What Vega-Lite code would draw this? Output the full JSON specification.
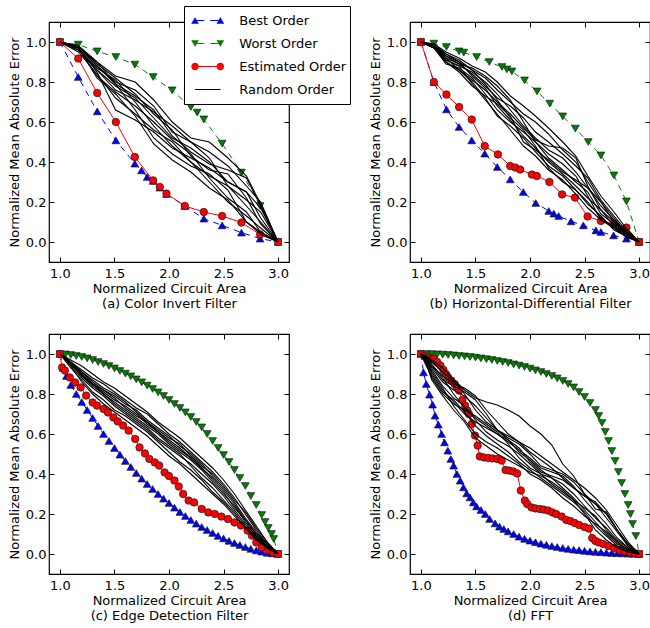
{
"$schema": "https://vega.github.io/schema/vega-lite/v6.json",
"autosize": {"type": "pad"},
"padding": {"left": 7, "top": 5, "right": 0, "bottom": 0},
"background": "white",
"config": {
  "font": "DejaVu Sans",
  "view": {"stroke": "black", "strokeWidth": 1.2},
  "axis": {"domain": false, "grid": false, "ticks": true, "tickColor": "black", "tickSize": -5, "tickWidth": 1,
    "labelFont": "DejaVu Sans", "labelFontSize": 13, "labelColor": "black", "labelFlush": false, "labelOverlap": false,
    "titleFont": "DejaVu Sans", "titleFontSize": 13, "titleFontWeight": "normal", "titleColor": "black", "titleLineHeight": 15.5}
},
"datasets": {
"a": [
{"k":"B","x":1,"y":1},{"k":"B","x":1.168,"y":0.825},{"k":"B","x":1.342,"y":0.653},{"k":"B","x":1.513,"y":0.508},{"k":"B","x":1.687,"y":0.392},{"k":"B","x":1.748,"y":0.358},{"k":"B","x":1.8,"y":0.325},{"k":"B","x":1.855,"y":0.305},{"k":"B","x":1.916,"y":0.272},{"k":"B","x":1.977,"y":0.24},{"k":"B","x":2.145,"y":0.18},{"k":"B","x":2.319,"y":0.117},{"k":"B","x":2.487,"y":0.083},{"k":"B","x":2.664,"y":0.047},{"k":"B","x":2.835,"y":0.017},{"k":"B","x":3,"y":0},
{"k":"W","x":1,"y":1},{"k":"W","x":1.168,"y":0.987},{"k":"W","x":1.342,"y":0.953},{"k":"W","x":1.513,"y":0.925},{"k":"W","x":1.687,"y":0.887},{"k":"W","x":1.855,"y":0.825},{"k":"W","x":2.029,"y":0.758},{"k":"W","x":2.2,"y":0.675},{"k":"W","x":2.258,"y":0.647},{"k":"W","x":2.319,"y":0.613},{"k":"W","x":2.487,"y":0.492},{"k":"W","x":2.664,"y":0.347},{"k":"W","x":2.835,"y":0.18},{"k":"W","x":3,"y":0},
{"k":"E","x":1,"y":1},{"k":"E","x":1.168,"y":0.917},{"k":"E","x":1.342,"y":0.745},{"k":"E","x":1.513,"y":0.6},{"k":"E","x":1.687,"y":0.425},{"k":"E","x":1.855,"y":0.308},{"k":"E","x":1.916,"y":0.275},{"k":"E","x":1.977,"y":0.242},{"k":"E","x":2.145,"y":0.18},{"k":"E","x":2.319,"y":0.15},{"k":"E","x":2.487,"y":0.13},{"k":"E","x":2.664,"y":0.097},{"k":"E","x":2.835,"y":0.038},{"k":"E","x":3,"y":0},
{"k":"R","i":1,"x":1,"y":1},{"k":"R","i":1,"x":1.17,"y":0.98},{"k":"R","i":1,"x":1.34,"y":0.9},{"k":"R","i":1,"x":1.51,"y":0.83},{"k":"R","i":1,"x":1.69,"y":0.8},{"k":"R","i":1,"x":1.86,"y":0.71},{"k":"R","i":1,"x":2.03,"y":0.6},{"k":"R","i":1,"x":2.2,"y":0.52},{"k":"R","i":1,"x":2.37,"y":0.5},{"k":"R","i":1,"x":2.54,"y":0.42},{"k":"R","i":1,"x":2.71,"y":0.33},{"k":"R","i":1,"x":2.84,"y":0.19},{"k":"R","i":1,"x":3,"y":0},
{"k":"R","i":2,"x":1,"y":1},{"k":"R","i":2,"x":1.17,"y":0.97},{"k":"R","i":2,"x":1.34,"y":0.88},{"k":"R","i":2,"x":1.51,"y":0.8},{"k":"R","i":2,"x":1.69,"y":0.76},{"k":"R","i":2,"x":1.86,"y":0.68},{"k":"R","i":2,"x":2.03,"y":0.55},{"k":"R","i":2,"x":2.2,"y":0.5},{"k":"R","i":2,"x":2.37,"y":0.45},{"k":"R","i":2,"x":2.54,"y":0.38},{"k":"R","i":2,"x":2.71,"y":0.28},{"k":"R","i":2,"x":2.84,"y":0.2},{"k":"R","i":2,"x":3,"y":0},
{"k":"R","i":3,"x":1,"y":1},{"k":"R","i":3,"x":1.17,"y":0.96},{"k":"R","i":3,"x":1.34,"y":0.86},{"k":"R","i":3,"x":1.51,"y":0.78},{"k":"R","i":3,"x":1.69,"y":0.72},{"k":"R","i":3,"x":1.86,"y":0.62},{"k":"R","i":3,"x":2.03,"y":0.52},{"k":"R","i":3,"x":2.2,"y":0.47},{"k":"R","i":3,"x":2.37,"y":0.4},{"k":"R","i":3,"x":2.54,"y":0.3},{"k":"R","i":3,"x":2.71,"y":0.25},{"k":"R","i":3,"x":2.84,"y":0.17},{"k":"R","i":3,"x":3,"y":0},
{"k":"R","i":4,"x":1,"y":1},{"k":"R","i":4,"x":1.17,"y":0.98},{"k":"R","i":4,"x":1.34,"y":0.89},{"k":"R","i":4,"x":1.51,"y":0.82},{"k":"R","i":4,"x":1.69,"y":0.74},{"k":"R","i":4,"x":1.86,"y":0.64},{"k":"R","i":4,"x":2.03,"y":0.56},{"k":"R","i":4,"x":2.2,"y":0.43},{"k":"R","i":4,"x":2.37,"y":0.36},{"k":"R","i":4,"x":2.54,"y":0.34},{"k":"R","i":4,"x":2.71,"y":0.22},{"k":"R","i":4,"x":2.84,"y":0.09},{"k":"R","i":4,"x":3,"y":0},
{"k":"R","i":5,"x":1,"y":1},{"k":"R","i":5,"x":1.17,"y":0.95},{"k":"R","i":5,"x":1.34,"y":0.84},{"k":"R","i":5,"x":1.51,"y":0.72},{"k":"R","i":5,"x":1.69,"y":0.64},{"k":"R","i":5,"x":1.86,"y":0.56},{"k":"R","i":5,"x":2.03,"y":0.5},{"k":"R","i":5,"x":2.2,"y":0.4},{"k":"R","i":5,"x":2.37,"y":0.33},{"k":"R","i":5,"x":2.54,"y":0.28},{"k":"R","i":5,"x":2.71,"y":0.18},{"k":"R","i":5,"x":2.84,"y":0.1},{"k":"R","i":5,"x":3,"y":0},
{"k":"R","i":6,"x":1,"y":1},{"k":"R","i":6,"x":1.17,"y":0.97},{"k":"R","i":6,"x":1.34,"y":0.85},{"k":"R","i":6,"x":1.51,"y":0.66},{"k":"R","i":6,"x":1.69,"y":0.61},{"k":"R","i":6,"x":1.86,"y":0.55},{"k":"R","i":6,"x":2.03,"y":0.47},{"k":"R","i":6,"x":2.2,"y":0.42},{"k":"R","i":6,"x":2.37,"y":0.37},{"k":"R","i":6,"x":2.54,"y":0.3},{"k":"R","i":6,"x":2.71,"y":0.25},{"k":"R","i":6,"x":2.84,"y":0.12},{"k":"R","i":6,"x":3,"y":0},
{"k":"R","i":7,"x":1,"y":1},{"k":"R","i":7,"x":1.17,"y":0.96},{"k":"R","i":7,"x":1.34,"y":0.87},{"k":"R","i":7,"x":1.51,"y":0.81},{"k":"R","i":7,"x":1.69,"y":0.7},{"k":"R","i":7,"x":1.86,"y":0.58},{"k":"R","i":7,"x":2.03,"y":0.48},{"k":"R","i":7,"x":2.2,"y":0.4},{"k":"R","i":7,"x":2.37,"y":0.3},{"k":"R","i":7,"x":2.54,"y":0.2},{"k":"R","i":7,"x":2.71,"y":0.13},{"k":"R","i":7,"x":2.84,"y":0.07},{"k":"R","i":7,"x":3,"y":0},
{"k":"R","i":8,"x":1,"y":1},{"k":"R","i":8,"x":1.17,"y":0.97},{"k":"R","i":8,"x":1.34,"y":0.83},{"k":"R","i":8,"x":1.51,"y":0.75},{"k":"R","i":8,"x":1.69,"y":0.68},{"k":"R","i":8,"x":1.86,"y":0.6},{"k":"R","i":8,"x":2.03,"y":0.51},{"k":"R","i":8,"x":2.2,"y":0.44},{"k":"R","i":8,"x":2.37,"y":0.32},{"k":"R","i":8,"x":2.54,"y":0.22},{"k":"R","i":8,"x":2.71,"y":0.15},{"k":"R","i":8,"x":2.84,"y":0.05},{"k":"R","i":8,"x":3,"y":0},
{"k":"R","i":9,"x":1,"y":1},{"k":"R","i":9,"x":1.17,"y":0.98},{"k":"R","i":9,"x":1.34,"y":0.9},{"k":"R","i":9,"x":1.51,"y":0.79},{"k":"R","i":9,"x":1.69,"y":0.66},{"k":"R","i":9,"x":1.86,"y":0.52},{"k":"R","i":9,"x":2.03,"y":0.44},{"k":"R","i":9,"x":2.2,"y":0.38},{"k":"R","i":9,"x":2.37,"y":0.34},{"k":"R","i":9,"x":2.54,"y":0.26},{"k":"R","i":9,"x":2.71,"y":0.1},{"k":"R","i":9,"x":2.84,"y":0.04},{"k":"R","i":9,"x":3,"y":0},
{"k":"R","i":10,"x":1,"y":1},{"k":"R","i":10,"x":1.17,"y":0.96},{"k":"R","i":10,"x":1.34,"y":0.86},{"k":"R","i":10,"x":1.51,"y":0.76},{"k":"R","i":10,"x":1.69,"y":0.71},{"k":"R","i":10,"x":1.86,"y":0.65},{"k":"R","i":10,"x":2.03,"y":0.58},{"k":"R","i":10,"x":2.2,"y":0.5},{"k":"R","i":10,"x":2.37,"y":0.42},{"k":"R","i":10,"x":2.54,"y":0.28},{"k":"R","i":10,"x":2.71,"y":0.21},{"k":"R","i":10,"x":2.84,"y":0.15},{"k":"R","i":10,"x":3,"y":0},
{"k":"R","i":11,"x":1,"y":1},{"k":"R","i":11,"x":1.17,"y":0.97},{"k":"R","i":11,"x":1.34,"y":0.82},{"k":"R","i":11,"x":1.51,"y":0.74},{"k":"R","i":11,"x":1.69,"y":0.63},{"k":"R","i":11,"x":1.86,"y":0.49},{"k":"R","i":11,"x":2.03,"y":0.41},{"k":"R","i":11,"x":2.2,"y":0.35},{"k":"R","i":11,"x":2.37,"y":0.27},{"k":"R","i":11,"x":2.54,"y":0.21},{"k":"R","i":11,"x":2.71,"y":0.1},{"k":"R","i":11,"x":2.84,"y":0.05},{"k":"R","i":11,"x":3,"y":0},
{"k":"R","i":12,"x":1,"y":1},{"k":"R","i":12,"x":1.17,"y":0.98},{"k":"R","i":12,"x":1.34,"y":0.88},{"k":"R","i":12,"x":1.51,"y":0.79},{"k":"R","i":12,"x":1.69,"y":0.73},{"k":"R","i":12,"x":1.86,"y":0.66},{"k":"R","i":12,"x":2.03,"y":0.53},{"k":"R","i":12,"x":2.2,"y":0.45},{"k":"R","i":12,"x":2.37,"y":0.39},{"k":"R","i":12,"x":2.54,"y":0.36},{"k":"R","i":12,"x":2.71,"y":0.32},{"k":"R","i":12,"x":2.84,"y":0.18},{"k":"R","i":12,"x":3,"y":0}
],
"b": [
{"k":"B","x":1,"y":1},{"k":"B","x":1.119,"y":0.8},{"k":"B","x":1.234,"y":0.663},{"k":"B","x":1.35,"y":0.575},{"k":"B","x":1.466,"y":0.508},{"k":"B","x":1.585,"y":0.442},{"k":"B","x":1.7,"y":0.375},{"k":"B","x":1.819,"y":0.313},{"k":"B","x":1.938,"y":0.25},{"k":"B","x":2.053,"y":0.195},{"k":"B","x":2.172,"y":0.155},{"k":"B","x":2.218,"y":0.142},{"k":"B","x":2.263,"y":0.13},{"k":"B","x":2.376,"y":0.103},{"k":"B","x":2.489,"y":0.083},{"k":"B","x":2.604,"y":0.058},{"k":"B","x":2.65,"y":0.05},{"k":"B","x":2.766,"y":0.033},{"k":"B","x":2.884,"y":0.017},{"k":"B","x":3,"y":0},
{"k":"W","x":1,"y":1},{"k":"W","x":1.119,"y":0.992},{"k":"W","x":1.234,"y":0.975},{"k":"W","x":1.35,"y":0.953},{"k":"W","x":1.393,"y":0.947},{"k":"W","x":1.511,"y":0.925},{"k":"W","x":1.627,"y":0.9},{"k":"W","x":1.743,"y":0.875},{"k":"W","x":1.788,"y":0.863},{"k":"W","x":1.834,"y":0.853},{"k":"W","x":1.95,"y":0.808},{"k":"W","x":2.065,"y":0.753},{"k":"W","x":2.181,"y":0.692},{"k":"W","x":2.3,"y":0.628},{"k":"W","x":2.416,"y":0.567},{"k":"W","x":2.534,"y":0.5},{"k":"W","x":2.65,"y":0.433},{"k":"W","x":2.769,"y":0.333},{"k":"W","x":2.884,"y":0.203},{"k":"W","x":3,"y":0},
{"k":"E","x":1,"y":1},{"k":"E","x":1.119,"y":0.8},{"k":"E","x":1.234,"y":0.737},{"k":"E","x":1.35,"y":0.675},{"k":"E","x":1.466,"y":0.612},{"k":"E","x":1.585,"y":0.48},{"k":"E","x":1.706,"y":0.438},{"k":"E","x":1.819,"y":0.38},{"k":"E","x":1.865,"y":0.372},{"k":"E","x":1.91,"y":0.362},{"k":"E","x":2.017,"y":0.337},{"k":"E","x":2.062,"y":0.33},{"k":"E","x":2.178,"y":0.3},{"k":"E","x":2.294,"y":0.238},{"k":"E","x":2.412,"y":0.222},{"k":"E","x":2.528,"y":0.128},{"k":"E","x":2.65,"y":0.105},{"k":"E","x":2.766,"y":0.092},{"k":"E","x":2.884,"y":0.072},{"k":"E","x":3,"y":0},
{"k":"R","i":1,"x":1,"y":1},{"k":"R","i":1,"x":1.12,"y":0.99},{"k":"R","i":1,"x":1.23,"y":0.95},{"k":"R","i":1,"x":1.35,"y":0.92},{"k":"R","i":1,"x":1.47,"y":0.88},{"k":"R","i":1,"x":1.59,"y":0.85},{"k":"R","i":1,"x":1.7,"y":0.8},{"k":"R","i":1,"x":1.82,"y":0.73},{"k":"R","i":1,"x":1.94,"y":0.68},{"k":"R","i":1,"x":2.05,"y":0.63},{"k":"R","i":1,"x":2.17,"y":0.57},{"k":"R","i":1,"x":2.3,"y":0.5},{"k":"R","i":1,"x":2.42,"y":0.43},{"k":"R","i":1,"x":2.53,"y":0.33},{"k":"R","i":1,"x":2.65,"y":0.23},{"k":"R","i":1,"x":2.77,"y":0.15},{"k":"R","i":1,"x":2.88,"y":0.07},{"k":"R","i":1,"x":3,"y":0},
{"k":"R","i":2,"x":1,"y":1},{"k":"R","i":2,"x":1.12,"y":0.98},{"k":"R","i":2,"x":1.23,"y":0.93},{"k":"R","i":2,"x":1.35,"y":0.9},{"k":"R","i":2,"x":1.47,"y":0.86},{"k":"R","i":2,"x":1.59,"y":0.82},{"k":"R","i":2,"x":1.7,"y":0.76},{"k":"R","i":2,"x":1.82,"y":0.7},{"k":"R","i":2,"x":1.94,"y":0.64},{"k":"R","i":2,"x":2.05,"y":0.6},{"k":"R","i":2,"x":2.17,"y":0.54},{"k":"R","i":2,"x":2.3,"y":0.46},{"k":"R","i":2,"x":2.42,"y":0.4},{"k":"R","i":2,"x":2.53,"y":0.3},{"k":"R","i":2,"x":2.65,"y":0.2},{"k":"R","i":2,"x":2.77,"y":0.12},{"k":"R","i":2,"x":2.88,"y":0.05},{"k":"R","i":2,"x":3,"y":0},
{"k":"R","i":3,"x":1,"y":1},{"k":"R","i":3,"x":1.12,"y":0.98},{"k":"R","i":3,"x":1.23,"y":0.92},{"k":"R","i":3,"x":1.35,"y":0.89},{"k":"R","i":3,"x":1.47,"y":0.84},{"k":"R","i":3,"x":1.59,"y":0.78},{"k":"R","i":3,"x":1.7,"y":0.72},{"k":"R","i":3,"x":1.82,"y":0.68},{"k":"R","i":3,"x":1.94,"y":0.62},{"k":"R","i":3,"x":2.05,"y":0.55},{"k":"R","i":3,"x":2.17,"y":0.5},{"k":"R","i":3,"x":2.3,"y":0.44},{"k":"R","i":3,"x":2.42,"y":0.38},{"k":"R","i":3,"x":2.53,"y":0.32},{"k":"R","i":3,"x":2.65,"y":0.21},{"k":"R","i":3,"x":2.77,"y":0.13},{"k":"R","i":3,"x":2.88,"y":0.06},{"k":"R","i":3,"x":3,"y":0},
{"k":"R","i":4,"x":1,"y":1},{"k":"R","i":4,"x":1.12,"y":0.97},{"k":"R","i":4,"x":1.23,"y":0.91},{"k":"R","i":4,"x":1.35,"y":0.88},{"k":"R","i":4,"x":1.47,"y":0.85},{"k":"R","i":4,"x":1.59,"y":0.8},{"k":"R","i":4,"x":1.7,"y":0.74},{"k":"R","i":4,"x":1.82,"y":0.66},{"k":"R","i":4,"x":1.94,"y":0.58},{"k":"R","i":4,"x":2.05,"y":0.52},{"k":"R","i":4,"x":2.17,"y":0.46},{"k":"R","i":4,"x":2.3,"y":0.42},{"k":"R","i":4,"x":2.42,"y":0.35},{"k":"R","i":4,"x":2.53,"y":0.27},{"k":"R","i":4,"x":2.65,"y":0.18},{"k":"R","i":4,"x":2.77,"y":0.11},{"k":"R","i":4,"x":2.88,"y":0.05},{"k":"R","i":4,"x":3,"y":0},
{"k":"R","i":5,"x":1,"y":1},{"k":"R","i":5,"x":1.12,"y":0.98},{"k":"R","i":5,"x":1.23,"y":0.9},{"k":"R","i":5,"x":1.35,"y":0.86},{"k":"R","i":5,"x":1.47,"y":0.81},{"k":"R","i":5,"x":1.59,"y":0.76},{"k":"R","i":5,"x":1.7,"y":0.7},{"k":"R","i":5,"x":1.82,"y":0.64},{"k":"R","i":5,"x":1.94,"y":0.57},{"k":"R","i":5,"x":2.05,"y":0.51},{"k":"R","i":5,"x":2.17,"y":0.48},{"k":"R","i":5,"x":2.3,"y":0.47},{"k":"R","i":5,"x":2.42,"y":0.42},{"k":"R","i":5,"x":2.53,"y":0.28},{"k":"R","i":5,"x":2.65,"y":0.16},{"k":"R","i":5,"x":2.77,"y":0.1},{"k":"R","i":5,"x":2.88,"y":0.04},{"k":"R","i":5,"x":3,"y":0},
{"k":"R","i":6,"x":1,"y":1},{"k":"R","i":6,"x":1.12,"y":0.97},{"k":"R","i":6,"x":1.23,"y":0.89},{"k":"R","i":6,"x":1.35,"y":0.87},{"k":"R","i":6,"x":1.47,"y":0.82},{"k":"R","i":6,"x":1.59,"y":0.74},{"k":"R","i":6,"x":1.7,"y":0.66},{"k":"R","i":6,"x":1.82,"y":0.6},{"k":"R","i":6,"x":1.94,"y":0.55},{"k":"R","i":6,"x":2.05,"y":0.5},{"k":"R","i":6,"x":2.17,"y":0.42},{"k":"R","i":6,"x":2.3,"y":0.36},{"k":"R","i":6,"x":2.42,"y":0.3},{"k":"R","i":6,"x":2.53,"y":0.25},{"k":"R","i":6,"x":2.65,"y":0.14},{"k":"R","i":6,"x":2.77,"y":0.09},{"k":"R","i":6,"x":2.88,"y":0.04},{"k":"R","i":6,"x":3,"y":0},
{"k":"R","i":7,"x":1,"y":1},{"k":"R","i":7,"x":1.12,"y":0.98},{"k":"R","i":7,"x":1.23,"y":0.94},{"k":"R","i":7,"x":1.35,"y":0.9},{"k":"R","i":7,"x":1.47,"y":0.83},{"k":"R","i":7,"x":1.59,"y":0.77},{"k":"R","i":7,"x":1.7,"y":0.68},{"k":"R","i":7,"x":1.82,"y":0.61},{"k":"R","i":7,"x":1.94,"y":0.53},{"k":"R","i":7,"x":2.05,"y":0.47},{"k":"R","i":7,"x":2.17,"y":0.4},{"k":"R","i":7,"x":2.3,"y":0.34},{"k":"R","i":7,"x":2.42,"y":0.28},{"k":"R","i":7,"x":2.53,"y":0.22},{"k":"R","i":7,"x":2.65,"y":0.16},{"k":"R","i":7,"x":2.77,"y":0.08},{"k":"R","i":7,"x":2.88,"y":0.03},{"k":"R","i":7,"x":3,"y":0},
{"k":"R","i":8,"x":1,"y":1},{"k":"R","i":8,"x":1.12,"y":0.97},{"k":"R","i":8,"x":1.23,"y":0.92},{"k":"R","i":8,"x":1.35,"y":0.86},{"k":"R","i":8,"x":1.47,"y":0.8},{"k":"R","i":8,"x":1.59,"y":0.72},{"k":"R","i":8,"x":1.7,"y":0.63},{"k":"R","i":8,"x":1.82,"y":0.58},{"k":"R","i":8,"x":1.94,"y":0.52},{"k":"R","i":8,"x":2.05,"y":0.45},{"k":"R","i":8,"x":2.17,"y":0.38},{"k":"R","i":8,"x":2.3,"y":0.33},{"k":"R","i":8,"x":2.42,"y":0.26},{"k":"R","i":8,"x":2.53,"y":0.2},{"k":"R","i":8,"x":2.65,"y":0.12},{"k":"R","i":8,"x":2.77,"y":0.07},{"k":"R","i":8,"x":2.88,"y":0.03},{"k":"R","i":8,"x":3,"y":0},
{"k":"R","i":9,"x":1,"y":1},{"k":"R","i":9,"x":1.12,"y":0.98},{"k":"R","i":9,"x":1.23,"y":0.93},{"k":"R","i":9,"x":1.35,"y":0.89},{"k":"R","i":9,"x":1.47,"y":0.87},{"k":"R","i":9,"x":1.59,"y":0.83},{"k":"R","i":9,"x":1.7,"y":0.78},{"k":"R","i":9,"x":1.82,"y":0.71},{"k":"R","i":9,"x":1.94,"y":0.6},{"k":"R","i":9,"x":2.05,"y":0.5},{"k":"R","i":9,"x":2.17,"y":0.44},{"k":"R","i":9,"x":2.3,"y":0.39},{"k":"R","i":9,"x":2.42,"y":0.33},{"k":"R","i":9,"x":2.53,"y":0.23},{"k":"R","i":9,"x":2.65,"y":0.11},{"k":"R","i":9,"x":2.77,"y":0.08},{"k":"R","i":9,"x":2.88,"y":0.04},{"k":"R","i":9,"x":3,"y":0},
{"k":"R","i":10,"x":1,"y":1},{"k":"R","i":10,"x":1.12,"y":0.99},{"k":"R","i":10,"x":1.23,"y":0.94},{"k":"R","i":10,"x":1.35,"y":0.91},{"k":"R","i":10,"x":1.47,"y":0.86},{"k":"R","i":10,"x":1.59,"y":0.79},{"k":"R","i":10,"x":1.7,"y":0.71},{"k":"R","i":10,"x":1.82,"y":0.62},{"k":"R","i":10,"x":1.94,"y":0.56},{"k":"R","i":10,"x":2.05,"y":0.48},{"k":"R","i":10,"x":2.17,"y":0.37},{"k":"R","i":10,"x":2.3,"y":0.3},{"k":"R","i":10,"x":2.42,"y":0.26},{"k":"R","i":10,"x":2.53,"y":0.19},{"k":"R","i":10,"x":2.65,"y":0.13},{"k":"R","i":10,"x":2.77,"y":0.06},{"k":"R","i":10,"x":2.88,"y":0.03},{"k":"R","i":10,"x":3,"y":0},
{"k":"R","i":11,"x":1,"y":1},{"k":"R","i":11,"x":1.12,"y":0.98},{"k":"R","i":11,"x":1.23,"y":0.91},{"k":"R","i":11,"x":1.35,"y":0.88},{"k":"R","i":11,"x":1.47,"y":0.79},{"k":"R","i":11,"x":1.59,"y":0.71},{"k":"R","i":11,"x":1.7,"y":0.64},{"k":"R","i":11,"x":1.82,"y":0.56},{"k":"R","i":11,"x":1.94,"y":0.48},{"k":"R","i":11,"x":2.05,"y":0.43},{"k":"R","i":11,"x":2.17,"y":0.36},{"k":"R","i":11,"x":2.3,"y":0.31},{"k":"R","i":11,"x":2.42,"y":0.24},{"k":"R","i":11,"x":2.53,"y":0.17},{"k":"R","i":11,"x":2.65,"y":0.11},{"k":"R","i":11,"x":2.77,"y":0.07},{"k":"R","i":11,"x":2.88,"y":0.025},{"k":"R","i":11,"x":3,"y":0},
{"k":"R","i":12,"x":1,"y":1},{"k":"R","i":12,"x":1.12,"y":0.97},{"k":"R","i":12,"x":1.23,"y":0.9},{"k":"R","i":12,"x":1.35,"y":0.85},{"k":"R","i":12,"x":1.47,"y":0.78},{"k":"R","i":12,"x":1.59,"y":0.73},{"k":"R","i":12,"x":1.7,"y":0.69},{"k":"R","i":12,"x":1.82,"y":0.63},{"k":"R","i":12,"x":1.94,"y":0.5},{"k":"R","i":12,"x":2.05,"y":0.46},{"k":"R","i":12,"x":2.17,"y":0.41},{"k":"R","i":12,"x":2.3,"y":0.35},{"k":"R","i":12,"x":2.42,"y":0.31},{"k":"R","i":12,"x":2.53,"y":0.27},{"k":"R","i":12,"x":2.65,"y":0.2},{"k":"R","i":12,"x":2.77,"y":0.1},{"k":"R","i":12,"x":2.88,"y":0.05},{"k":"R","i":12,"x":3,"y":0}
],
"c": [
{"k":"B","x":1,"y":1},{"k":"B","x":1.03,"y":0.93},{"k":"B","x":1.06,"y":0.89},{"k":"B","x":1.1,"y":0.845},{"k":"B","x":1.15,"y":0.8},{"k":"B","x":1.2,"y":0.76},{"k":"B","x":1.25,"y":0.72},{"k":"B","x":1.3,"y":0.68},{"k":"B","x":1.35,"y":0.64},{"k":"B","x":1.4,"y":0.6},{"k":"B","x":1.45,"y":0.565},{"k":"B","x":1.5,"y":0.53},{"k":"B","x":1.55,"y":0.497},{"k":"B","x":1.6,"y":0.465},{"k":"B","x":1.65,"y":0.435},{"k":"B","x":1.7,"y":0.405},{"k":"B","x":1.75,"y":0.377},{"k":"B","x":1.8,"y":0.35},{"k":"B","x":1.85,"y":0.325},{"k":"B","x":1.9,"y":0.3},{"k":"B","x":1.95,"y":0.277},{"k":"B","x":2,"y":0.255},{"k":"B","x":2.05,"y":0.232},{"k":"B","x":2.1,"y":0.21},{"k":"B","x":2.15,"y":0.19},{"k":"B","x":2.2,"y":0.17},{"k":"B","x":2.25,"y":0.152},{"k":"B","x":2.3,"y":0.135},{"k":"B","x":2.35,"y":0.12},{"k":"B","x":2.4,"y":0.105},{"k":"B","x":2.45,"y":0.091},{"k":"B","x":2.5,"y":0.078},{"k":"B","x":2.55,"y":0.066},{"k":"B","x":2.6,"y":0.055},{"k":"B","x":2.65,"y":0.045},{"k":"B","x":2.7,"y":0.035},{"k":"B","x":2.75,"y":0.026},{"k":"B","x":2.8,"y":0.018},{"k":"B","x":2.85,"y":0.012},{"k":"B","x":2.9,"y":0.006},{"k":"B","x":2.95,"y":0.003},{"k":"B","x":3,"y":0},
{"k":"W","x":1,"y":1},{"k":"W","x":1.05,"y":0.998},{"k":"W","x":1.1,"y":0.995},{"k":"W","x":1.15,"y":0.99},{"k":"W","x":1.2,"y":0.985},{"k":"W","x":1.25,"y":0.978},{"k":"W","x":1.3,"y":0.97},{"k":"W","x":1.35,"y":0.96},{"k":"W","x":1.4,"y":0.95},{"k":"W","x":1.45,"y":0.94},{"k":"W","x":1.5,"y":0.928},{"k":"W","x":1.55,"y":0.915},{"k":"W","x":1.6,"y":0.902},{"k":"W","x":1.65,"y":0.888},{"k":"W","x":1.7,"y":0.873},{"k":"W","x":1.75,"y":0.858},{"k":"W","x":1.8,"y":0.842},{"k":"W","x":1.85,"y":0.825},{"k":"W","x":1.9,"y":0.808},{"k":"W","x":1.95,"y":0.79},{"k":"W","x":2,"y":0.77},{"k":"W","x":2.05,"y":0.75},{"k":"W","x":2.1,"y":0.73},{"k":"W","x":2.15,"y":0.708},{"k":"W","x":2.2,"y":0.685},{"k":"W","x":2.25,"y":0.66},{"k":"W","x":2.3,"y":0.633},{"k":"W","x":2.35,"y":0.6},{"k":"W","x":2.4,"y":0.565},{"k":"W","x":2.45,"y":0.53},{"k":"W","x":2.5,"y":0.495},{"k":"W","x":2.55,"y":0.46},{"k":"W","x":2.6,"y":0.42},{"k":"W","x":2.65,"y":0.38},{"k":"W","x":2.7,"y":0.34},{"k":"W","x":2.75,"y":0.29},{"k":"W","x":2.8,"y":0.245},{"k":"W","x":2.85,"y":0.195},{"k":"W","x":2.88,"y":0.16},{"k":"W","x":2.91,"y":0.13},{"k":"W","x":2.94,"y":0.1},{"k":"W","x":2.96,"y":0.075},{"k":"W","x":3,"y":0},
{"k":"E","x":1,"y":1},{"k":"E","x":1.02,"y":0.933},{"k":"E","x":1.046,"y":0.917},{"k":"E","x":1.09,"y":0.883},{"k":"E","x":1.14,"y":0.858},{"k":"E","x":1.19,"y":0.833},{"k":"E","x":1.24,"y":0.792},{"k":"E","x":1.3,"y":0.758},{"k":"E","x":1.34,"y":0.742},{"k":"E","x":1.4,"y":0.725},{"k":"E","x":1.44,"y":0.708},{"k":"E","x":1.49,"y":0.683},{"k":"E","x":1.53,"y":0.663},{"k":"E","x":1.58,"y":0.642},{"k":"E","x":1.63,"y":0.617},{"k":"E","x":1.69,"y":0.575},{"k":"E","x":1.73,"y":0.533},{"k":"E","x":1.78,"y":0.503},{"k":"E","x":1.82,"y":0.475},{"k":"E","x":1.87,"y":0.458},{"k":"E","x":1.91,"y":0.442},{"k":"E","x":1.96,"y":0.408},{"k":"E","x":2,"y":0.39},{"k":"E","x":2.05,"y":0.367},{"k":"E","x":2.09,"y":0.337},{"k":"E","x":2.13,"y":0.3},{"k":"E","x":2.18,"y":0.267},{"k":"E","x":2.23,"y":0.258},{"k":"E","x":2.3,"y":0.225},{"k":"E","x":2.36,"y":0.208},{"k":"E","x":2.42,"y":0.2},{"k":"E","x":2.48,"y":0.187},{"k":"E","x":2.54,"y":0.175},{"k":"E","x":2.6,"y":0.158},{"k":"E","x":2.66,"y":0.142},{"k":"E","x":2.72,"y":0.117},{"k":"E","x":2.76,"y":0.092},{"k":"E","x":2.8,"y":0.058},{"k":"E","x":2.85,"y":0.033},{"k":"E","x":2.91,"y":0.017},{"k":"E","x":2.95,"y":0.008},{"k":"E","x":3,"y":0},
{"k":"R","i":1,"x":1,"y":1},{"k":"R","i":1,"x":1.1,"y":0.97},{"k":"R","i":1,"x":1.2,"y":0.94},{"k":"R","i":1,"x":1.3,"y":0.9},{"k":"R","i":1,"x":1.4,"y":0.86},{"k":"R","i":1,"x":1.5,"y":0.83},{"k":"R","i":1,"x":1.6,"y":0.79},{"k":"R","i":1,"x":1.7,"y":0.75},{"k":"R","i":1,"x":1.8,"y":0.71},{"k":"R","i":1,"x":1.9,"y":0.66},{"k":"R","i":1,"x":2,"y":0.62},{"k":"R","i":1,"x":2.1,"y":0.58},{"k":"R","i":1,"x":2.2,"y":0.53},{"k":"R","i":1,"x":2.3,"y":0.48},{"k":"R","i":1,"x":2.4,"y":0.43},{"k":"R","i":1,"x":2.5,"y":0.37},{"k":"R","i":1,"x":2.6,"y":0.3},{"k":"R","i":1,"x":2.7,"y":0.22},{"k":"R","i":1,"x":2.8,"y":0.14},{"k":"R","i":1,"x":2.9,"y":0.06},{"k":"R","i":1,"x":3,"y":0},
{"k":"R","i":2,"x":1,"y":1},{"k":"R","i":2,"x":1.1,"y":0.96},{"k":"R","i":2,"x":1.2,"y":0.92},{"k":"R","i":2,"x":1.3,"y":0.88},{"k":"R","i":2,"x":1.4,"y":0.85},{"k":"R","i":2,"x":1.5,"y":0.81},{"k":"R","i":2,"x":1.6,"y":0.77},{"k":"R","i":2,"x":1.7,"y":0.73},{"k":"R","i":2,"x":1.8,"y":0.7},{"k":"R","i":2,"x":1.9,"y":0.65},{"k":"R","i":2,"x":2,"y":0.6},{"k":"R","i":2,"x":2.1,"y":0.56},{"k":"R","i":2,"x":2.2,"y":0.51},{"k":"R","i":2,"x":2.3,"y":0.46},{"k":"R","i":2,"x":2.4,"y":0.41},{"k":"R","i":2,"x":2.5,"y":0.35},{"k":"R","i":2,"x":2.6,"y":0.28},{"k":"R","i":2,"x":2.7,"y":0.2},{"k":"R","i":2,"x":2.8,"y":0.12},{"k":"R","i":2,"x":2.9,"y":0.05},{"k":"R","i":2,"x":3,"y":0},
{"k":"R","i":3,"x":1,"y":1},{"k":"R","i":3,"x":1.1,"y":0.95},{"k":"R","i":3,"x":1.2,"y":0.91},{"k":"R","i":3,"x":1.3,"y":0.86},{"k":"R","i":3,"x":1.4,"y":0.82},{"k":"R","i":3,"x":1.5,"y":0.79},{"k":"R","i":3,"x":1.6,"y":0.75},{"k":"R","i":3,"x":1.7,"y":0.72},{"k":"R","i":3,"x":1.8,"y":0.67},{"k":"R","i":3,"x":1.9,"y":0.63},{"k":"R","i":3,"x":2,"y":0.59},{"k":"R","i":3,"x":2.1,"y":0.54},{"k":"R","i":3,"x":2.2,"y":0.5},{"k":"R","i":3,"x":2.3,"y":0.45},{"k":"R","i":3,"x":2.4,"y":0.39},{"k":"R","i":3,"x":2.5,"y":0.33},{"k":"R","i":3,"x":2.6,"y":0.26},{"k":"R","i":3,"x":2.7,"y":0.18},{"k":"R","i":3,"x":2.8,"y":0.11},{"k":"R","i":3,"x":2.9,"y":0.05},{"k":"R","i":3,"x":3,"y":0},
{"k":"R","i":4,"x":1,"y":1},{"k":"R","i":4,"x":1.1,"y":0.96},{"k":"R","i":4,"x":1.2,"y":0.9},{"k":"R","i":4,"x":1.3,"y":0.85},{"k":"R","i":4,"x":1.4,"y":0.81},{"k":"R","i":4,"x":1.5,"y":0.77},{"k":"R","i":4,"x":1.6,"y":0.74},{"k":"R","i":4,"x":1.7,"y":0.7},{"k":"R","i":4,"x":1.8,"y":0.65},{"k":"R","i":4,"x":1.9,"y":0.61},{"k":"R","i":4,"x":2,"y":0.57},{"k":"R","i":4,"x":2.1,"y":0.53},{"k":"R","i":4,"x":2.2,"y":0.48},{"k":"R","i":4,"x":2.3,"y":0.43},{"k":"R","i":4,"x":2.4,"y":0.38},{"k":"R","i":4,"x":2.5,"y":0.32},{"k":"R","i":4,"x":2.6,"y":0.25},{"k":"R","i":4,"x":2.7,"y":0.17},{"k":"R","i":4,"x":2.8,"y":0.1},{"k":"R","i":4,"x":2.9,"y":0.04},{"k":"R","i":4,"x":3,"y":0},
{"k":"R","i":5,"x":1,"y":1},{"k":"R","i":5,"x":1.1,"y":0.95},{"k":"R","i":5,"x":1.2,"y":0.89},{"k":"R","i":5,"x":1.3,"y":0.84},{"k":"R","i":5,"x":1.4,"y":0.8},{"k":"R","i":5,"x":1.5,"y":0.76},{"k":"R","i":5,"x":1.6,"y":0.72},{"k":"R","i":5,"x":1.7,"y":0.68},{"k":"R","i":5,"x":1.8,"y":0.64},{"k":"R","i":5,"x":1.9,"y":0.6},{"k":"R","i":5,"x":2,"y":0.55},{"k":"R","i":5,"x":2.1,"y":0.51},{"k":"R","i":5,"x":2.2,"y":0.47},{"k":"R","i":5,"x":2.3,"y":0.42},{"k":"R","i":5,"x":2.4,"y":0.36},{"k":"R","i":5,"x":2.5,"y":0.3},{"k":"R","i":5,"x":2.6,"y":0.24},{"k":"R","i":5,"x":2.7,"y":0.16},{"k":"R","i":5,"x":2.8,"y":0.09},{"k":"R","i":5,"x":2.9,"y":0.04},{"k":"R","i":5,"x":3,"y":0},
{"k":"R","i":6,"x":1,"y":1},{"k":"R","i":6,"x":1.1,"y":0.94},{"k":"R","i":6,"x":1.2,"y":0.88},{"k":"R","i":6,"x":1.3,"y":0.83},{"k":"R","i":6,"x":1.4,"y":0.79},{"k":"R","i":6,"x":1.5,"y":0.74},{"k":"R","i":6,"x":1.6,"y":0.7},{"k":"R","i":6,"x":1.7,"y":0.66},{"k":"R","i":6,"x":1.8,"y":0.62},{"k":"R","i":6,"x":1.9,"y":0.57},{"k":"R","i":6,"x":2,"y":0.53},{"k":"R","i":6,"x":2.1,"y":0.49},{"k":"R","i":6,"x":2.2,"y":0.45},{"k":"R","i":6,"x":2.3,"y":0.4},{"k":"R","i":6,"x":2.4,"y":0.35},{"k":"R","i":6,"x":2.5,"y":0.29},{"k":"R","i":6,"x":2.6,"y":0.22},{"k":"R","i":6,"x":2.7,"y":0.15},{"k":"R","i":6,"x":2.8,"y":0.09},{"k":"R","i":6,"x":2.9,"y":0.03},{"k":"R","i":6,"x":3,"y":0},
{"k":"R","i":7,"x":1,"y":1},{"k":"R","i":7,"x":1.1,"y":0.95},{"k":"R","i":7,"x":1.2,"y":0.9},{"k":"R","i":7,"x":1.3,"y":0.85},{"k":"R","i":7,"x":1.4,"y":0.8},{"k":"R","i":7,"x":1.5,"y":0.75},{"k":"R","i":7,"x":1.6,"y":0.71},{"k":"R","i":7,"x":1.7,"y":0.67},{"k":"R","i":7,"x":1.8,"y":0.63},{"k":"R","i":7,"x":1.9,"y":0.58},{"k":"R","i":7,"x":2,"y":0.54},{"k":"R","i":7,"x":2.1,"y":0.5},{"k":"R","i":7,"x":2.2,"y":0.44},{"k":"R","i":7,"x":2.3,"y":0.38},{"k":"R","i":7,"x":2.4,"y":0.33},{"k":"R","i":7,"x":2.5,"y":0.27},{"k":"R","i":7,"x":2.6,"y":0.21},{"k":"R","i":7,"x":2.7,"y":0.14},{"k":"R","i":7,"x":2.8,"y":0.08},{"k":"R","i":7,"x":2.9,"y":0.04},{"k":"R","i":7,"x":3,"y":0},
{"k":"R","i":8,"x":1,"y":1},{"k":"R","i":8,"x":1.1,"y":0.93},{"k":"R","i":8,"x":1.2,"y":0.87},{"k":"R","i":8,"x":1.3,"y":0.81},{"k":"R","i":8,"x":1.4,"y":0.77},{"k":"R","i":8,"x":1.5,"y":0.72},{"k":"R","i":8,"x":1.6,"y":0.69},{"k":"R","i":8,"x":1.7,"y":0.65},{"k":"R","i":8,"x":1.8,"y":0.61},{"k":"R","i":8,"x":1.9,"y":0.56},{"k":"R","i":8,"x":2,"y":0.51},{"k":"R","i":8,"x":2.1,"y":0.46},{"k":"R","i":8,"x":2.2,"y":0.42},{"k":"R","i":8,"x":2.3,"y":0.37},{"k":"R","i":8,"x":2.4,"y":0.31},{"k":"R","i":8,"x":2.5,"y":0.26},{"k":"R","i":8,"x":2.6,"y":0.2},{"k":"R","i":8,"x":2.7,"y":0.13},{"k":"R","i":8,"x":2.8,"y":0.08},{"k":"R","i":8,"x":2.9,"y":0.03},{"k":"R","i":8,"x":3,"y":0},
{"k":"R","i":9,"x":1,"y":1},{"k":"R","i":9,"x":1.1,"y":0.94},{"k":"R","i":9,"x":1.2,"y":0.86},{"k":"R","i":9,"x":1.3,"y":0.8},{"k":"R","i":9,"x":1.4,"y":0.75},{"k":"R","i":9,"x":1.5,"y":0.71},{"k":"R","i":9,"x":1.6,"y":0.67},{"k":"R","i":9,"x":1.7,"y":0.63},{"k":"R","i":9,"x":1.8,"y":0.59},{"k":"R","i":9,"x":1.9,"y":0.54},{"k":"R","i":9,"x":2,"y":0.49},{"k":"R","i":9,"x":2.1,"y":0.45},{"k":"R","i":9,"x":2.2,"y":0.4},{"k":"R","i":9,"x":2.3,"y":0.35},{"k":"R","i":9,"x":2.4,"y":0.3},{"k":"R","i":9,"x":2.5,"y":0.25},{"k":"R","i":9,"x":2.6,"y":0.19},{"k":"R","i":9,"x":2.7,"y":0.13},{"k":"R","i":9,"x":2.8,"y":0.07},{"k":"R","i":9,"x":2.9,"y":0.03},{"k":"R","i":9,"x":3,"y":0},
{"k":"R","i":10,"x":1,"y":1},{"k":"R","i":10,"x":1.1,"y":0.96},{"k":"R","i":10,"x":1.2,"y":0.91},{"k":"R","i":10,"x":1.3,"y":0.87},{"k":"R","i":10,"x":1.4,"y":0.83},{"k":"R","i":10,"x":1.5,"y":0.8},{"k":"R","i":10,"x":1.6,"y":0.76},{"k":"R","i":10,"x":1.7,"y":0.71},{"k":"R","i":10,"x":1.8,"y":0.66},{"k":"R","i":10,"x":1.9,"y":0.62},{"k":"R","i":10,"x":2,"y":0.58},{"k":"R","i":10,"x":2.1,"y":0.55},{"k":"R","i":10,"x":2.2,"y":0.49},{"k":"R","i":10,"x":2.3,"y":0.44},{"k":"R","i":10,"x":2.4,"y":0.4},{"k":"R","i":10,"x":2.5,"y":0.34},{"k":"R","i":10,"x":2.6,"y":0.27},{"k":"R","i":10,"x":2.7,"y":0.21},{"k":"R","i":10,"x":2.8,"y":0.13},{"k":"R","i":10,"x":2.9,"y":0.06},{"k":"R","i":10,"x":3,"y":0},
{"k":"R","i":11,"x":1,"y":1},{"k":"R","i":11,"x":1.1,"y":0.95},{"k":"R","i":11,"x":1.2,"y":0.89},{"k":"R","i":11,"x":1.3,"y":0.85},{"k":"R","i":11,"x":1.4,"y":0.82},{"k":"R","i":11,"x":1.5,"y":0.78},{"k":"R","i":11,"x":1.6,"y":0.73},{"k":"R","i":11,"x":1.7,"y":0.69},{"k":"R","i":11,"x":1.8,"y":0.66},{"k":"R","i":11,"x":1.9,"y":0.61},{"k":"R","i":11,"x":2,"y":0.56},{"k":"R","i":11,"x":2.1,"y":0.52},{"k":"R","i":11,"x":2.2,"y":0.48},{"k":"R","i":11,"x":2.3,"y":0.43},{"k":"R","i":11,"x":2.4,"y":0.37},{"k":"R","i":11,"x":2.5,"y":0.31},{"k":"R","i":11,"x":2.6,"y":0.23},{"k":"R","i":11,"x":2.7,"y":0.17},{"k":"R","i":11,"x":2.8,"y":0.1},{"k":"R","i":11,"x":2.9,"y":0.05},{"k":"R","i":11,"x":3,"y":0}
],
"d": [
{"k":"B","x":1,"y":1},{"k":"B","x":1.024,"y":0.908},{"k":"B","x":1.049,"y":0.85},{"k":"B","x":1.079,"y":0.797},{"k":"B","x":1.107,"y":0.747},{"k":"B","x":1.13,"y":0.692},{"k":"B","x":1.16,"y":0.647},{"k":"B","x":1.19,"y":0.6},{"k":"B","x":1.216,"y":0.558},{"k":"B","x":1.247,"y":0.517},{"k":"B","x":1.274,"y":0.475},{"k":"B","x":1.3,"y":0.442},{"k":"B","x":1.33,"y":0.4},{"k":"B","x":1.36,"y":0.367},{"k":"B","x":1.39,"y":0.333},{"k":"B","x":1.42,"y":0.303},{"k":"B","x":1.45,"y":0.283},{"k":"B","x":1.48,"y":0.258},{"k":"B","x":1.51,"y":0.238},{"k":"B","x":1.55,"y":0.22},{"k":"B","x":1.59,"y":0.2},{"k":"B","x":1.63,"y":0.175},{"k":"B","x":1.68,"y":0.153},{"k":"B","x":1.72,"y":0.137},{"k":"B","x":1.76,"y":0.125},{"k":"B","x":1.8,"y":0.113},{"k":"B","x":1.85,"y":0.1},{"k":"B","x":1.9,"y":0.087},{"k":"B","x":1.95,"y":0.076},{"k":"B","x":2,"y":0.067},{"k":"B","x":2.05,"y":0.059},{"k":"B","x":2.1,"y":0.052},{"k":"B","x":2.15,"y":0.046},{"k":"B","x":2.2,"y":0.04},{"k":"B","x":2.25,"y":0.035},{"k":"B","x":2.3,"y":0.03},{"k":"B","x":2.35,"y":0.026},{"k":"B","x":2.4,"y":0.022},{"k":"B","x":2.45,"y":0.019},{"k":"B","x":2.5,"y":0.016},{"k":"B","x":2.55,"y":0.013},{"k":"B","x":2.6,"y":0.011},{"k":"B","x":2.65,"y":0.009},{"k":"B","x":2.7,"y":0.007},{"k":"B","x":2.75,"y":0.005},{"k":"B","x":2.8,"y":0.004},{"k":"B","x":2.85,"y":0.003},{"k":"B","x":2.9,"y":0.002},{"k":"B","x":2.95,"y":0.001},{"k":"B","x":3,"y":0},
{"k":"W","x":1,"y":1},{"k":"W","x":1.05,"y":1},{"k":"W","x":1.1,"y":0.999},{"k":"W","x":1.15,"y":0.998},{"k":"W","x":1.2,"y":0.997},{"k":"W","x":1.25,"y":0.995},{"k":"W","x":1.3,"y":0.993},{"k":"W","x":1.35,"y":0.99},{"k":"W","x":1.4,"y":0.988},{"k":"W","x":1.45,"y":0.985},{"k":"W","x":1.5,"y":0.982},{"k":"W","x":1.55,"y":0.978},{"k":"W","x":1.6,"y":0.974},{"k":"W","x":1.65,"y":0.97},{"k":"W","x":1.7,"y":0.965},{"k":"W","x":1.75,"y":0.96},{"k":"W","x":1.8,"y":0.955},{"k":"W","x":1.85,"y":0.948},{"k":"W","x":1.9,"y":0.942},{"k":"W","x":1.95,"y":0.935},{"k":"W","x":2,"y":0.927},{"k":"W","x":2.05,"y":0.918},{"k":"W","x":2.1,"y":0.91},{"k":"W","x":2.15,"y":0.9},{"k":"W","x":2.2,"y":0.89},{"k":"W","x":2.25,"y":0.878},{"k":"W","x":2.3,"y":0.865},{"k":"W","x":2.35,"y":0.85},{"k":"W","x":2.4,"y":0.833},{"k":"W","x":2.45,"y":0.81},{"k":"W","x":2.5,"y":0.785},{"k":"W","x":2.55,"y":0.755},{"k":"W","x":2.6,"y":0.72},{"k":"W","x":2.63,"y":0.69},{"k":"W","x":2.66,"y":0.655},{"k":"W","x":2.69,"y":0.61},{"k":"W","x":2.72,"y":0.565},{"k":"W","x":2.75,"y":0.515},{"k":"W","x":2.78,"y":0.465},{"k":"W","x":2.81,"y":0.41},{"k":"W","x":2.84,"y":0.355},{"k":"W","x":2.87,"y":0.3},{"k":"W","x":2.9,"y":0.245},{"k":"W","x":2.92,"y":0.2},{"k":"W","x":2.94,"y":0.15},{"k":"W","x":2.97,"y":0.09},{"k":"W","x":3,"y":0},
{"k":"E","x":1,"y":1},{"k":"E","x":1.03,"y":0.99},{"k":"E","x":1.07,"y":0.983},{"k":"E","x":1.1,"y":0.978},{"k":"E","x":1.116,"y":0.975},{"k":"E","x":1.15,"y":0.96},{"k":"E","x":1.18,"y":0.942},{"k":"E","x":1.207,"y":0.92},{"k":"E","x":1.23,"y":0.9},{"k":"E","x":1.25,"y":0.883},{"k":"E","x":1.28,"y":0.867},{"k":"E","x":1.31,"y":0.85},{"k":"E","x":1.33,"y":0.833},{"k":"E","x":1.35,"y":0.817},{"k":"E","x":1.38,"y":0.77},{"k":"E","x":1.405,"y":0.742},{"k":"E","x":1.426,"y":0.717},{"k":"E","x":1.44,"y":0.7},{"k":"E","x":1.466,"y":0.65},{"k":"E","x":1.496,"y":0.592},{"k":"E","x":1.52,"y":0.542},{"k":"E","x":1.54,"y":0.488},{"k":"E","x":1.578,"y":0.483},{"k":"E","x":1.618,"y":0.48},{"k":"E","x":1.657,"y":0.478},{"k":"E","x":1.7,"y":0.475},{"k":"E","x":1.74,"y":0.467},{"k":"E","x":1.776,"y":0.42},{"k":"E","x":1.81,"y":0.417},{"k":"E","x":1.846,"y":0.413},{"k":"E","x":1.883,"y":0.403},{"k":"E","x":1.916,"y":0.317},{"k":"E","x":1.953,"y":0.267},{"k":"E","x":1.974,"y":0.25},{"k":"E","x":2.014,"y":0.233},{"k":"E","x":2.05,"y":0.228},{"k":"E","x":2.09,"y":0.225},{"k":"E","x":2.126,"y":0.222},{"k":"E","x":2.166,"y":0.217},{"k":"E","x":2.205,"y":0.208},{"k":"E","x":2.24,"y":0.2},{"k":"E","x":2.29,"y":0.187},{"k":"E","x":2.333,"y":0.17},{"k":"E","x":2.37,"y":0.165},{"k":"E","x":2.41,"y":0.155},{"k":"E","x":2.45,"y":0.145},{"k":"E","x":2.5,"y":0.135},{"k":"E","x":2.54,"y":0.127},{"k":"E","x":2.57,"y":0.08},{"k":"E","x":2.6,"y":0.065},{"k":"E","x":2.63,"y":0.058},{"k":"E","x":2.67,"y":0.05},{"k":"E","x":2.72,"y":0.04},{"k":"E","x":2.77,"y":0.03},{"k":"E","x":2.82,"y":0.02},{"k":"E","x":2.87,"y":0.014},{"k":"E","x":2.92,"y":0.008},{"k":"E","x":2.96,"y":0.004},{"k":"E","x":3,"y":0},
{"k":"R","i":1,"x":1,"y":1},{"k":"R","i":1,"x":1.05,"y":0.99},{"k":"R","i":1,"x":1.1,"y":0.97},{"k":"R","i":1,"x":1.2,"y":0.93},{"k":"R","i":1,"x":1.3,"y":0.87},{"k":"R","i":1,"x":1.4,"y":0.82},{"k":"R","i":1,"x":1.5,"y":0.78},{"k":"R","i":1,"x":1.6,"y":0.76},{"k":"R","i":1,"x":1.7,"y":0.745},{"k":"R","i":1,"x":1.8,"y":0.72},{"k":"R","i":1,"x":1.9,"y":0.69},{"k":"R","i":1,"x":2,"y":0.64},{"k":"R","i":1,"x":2.1,"y":0.6},{"k":"R","i":1,"x":2.2,"y":0.545},{"k":"R","i":1,"x":2.3,"y":0.45},{"k":"R","i":1,"x":2.4,"y":0.39},{"k":"R","i":1,"x":2.5,"y":0.3},{"k":"R","i":1,"x":2.6,"y":0.225},{"k":"R","i":1,"x":2.7,"y":0.21},{"k":"R","i":1,"x":2.8,"y":0.12},{"k":"R","i":1,"x":2.9,"y":0.04},{"k":"R","i":1,"x":3,"y":0},
{"k":"R","i":2,"x":1,"y":1},{"k":"R","i":2,"x":1.05,"y":0.97},{"k":"R","i":2,"x":1.1,"y":0.93},{"k":"R","i":2,"x":1.2,"y":0.86},{"k":"R","i":2,"x":1.3,"y":0.82},{"k":"R","i":2,"x":1.4,"y":0.79},{"k":"R","i":2,"x":1.5,"y":0.74},{"k":"R","i":2,"x":1.6,"y":0.68},{"k":"R","i":2,"x":1.7,"y":0.62},{"k":"R","i":2,"x":1.8,"y":0.58},{"k":"R","i":2,"x":1.9,"y":0.55},{"k":"R","i":2,"x":2,"y":0.5},{"k":"R","i":2,"x":2.1,"y":0.44},{"k":"R","i":2,"x":2.2,"y":0.42},{"k":"R","i":2,"x":2.3,"y":0.4},{"k":"R","i":2,"x":2.4,"y":0.36},{"k":"R","i":2,"x":2.5,"y":0.3},{"k":"R","i":2,"x":2.6,"y":0.25},{"k":"R","i":2,"x":2.7,"y":0.18},{"k":"R","i":2,"x":2.8,"y":0.11},{"k":"R","i":2,"x":2.9,"y":0.04},{"k":"R","i":2,"x":3,"y":0},
{"k":"R","i":3,"x":1,"y":1},{"k":"R","i":3,"x":1.05,"y":0.98},{"k":"R","i":3,"x":1.1,"y":0.95},{"k":"R","i":3,"x":1.2,"y":0.88},{"k":"R","i":3,"x":1.3,"y":0.8},{"k":"R","i":3,"x":1.4,"y":0.73},{"k":"R","i":3,"x":1.5,"y":0.68},{"k":"R","i":3,"x":1.6,"y":0.64},{"k":"R","i":3,"x":1.7,"y":0.6},{"k":"R","i":3,"x":1.8,"y":0.56},{"k":"R","i":3,"x":1.9,"y":0.52},{"k":"R","i":3,"x":2,"y":0.48},{"k":"R","i":3,"x":2.1,"y":0.43},{"k":"R","i":3,"x":2.2,"y":0.41},{"k":"R","i":3,"x":2.3,"y":0.39},{"k":"R","i":3,"x":2.4,"y":0.34},{"k":"R","i":3,"x":2.5,"y":0.27},{"k":"R","i":3,"x":2.6,"y":0.21},{"k":"R","i":3,"x":2.7,"y":0.15},{"k":"R","i":3,"x":2.8,"y":0.08},{"k":"R","i":3,"x":2.9,"y":0.03},{"k":"R","i":3,"x":3,"y":0},
{"k":"R","i":4,"x":1,"y":1},{"k":"R","i":4,"x":1.05,"y":0.96},{"k":"R","i":4,"x":1.1,"y":0.9},{"k":"R","i":4,"x":1.2,"y":0.82},{"k":"R","i":4,"x":1.3,"y":0.76},{"k":"R","i":4,"x":1.4,"y":0.7},{"k":"R","i":4,"x":1.5,"y":0.66},{"k":"R","i":4,"x":1.6,"y":0.63},{"k":"R","i":4,"x":1.7,"y":0.6},{"k":"R","i":4,"x":1.8,"y":0.57},{"k":"R","i":4,"x":1.9,"y":0.53},{"k":"R","i":4,"x":2,"y":0.46},{"k":"R","i":4,"x":2.1,"y":0.41},{"k":"R","i":4,"x":2.2,"y":0.39},{"k":"R","i":4,"x":2.3,"y":0.37},{"k":"R","i":4,"x":2.4,"y":0.33},{"k":"R","i":4,"x":2.5,"y":0.29},{"k":"R","i":4,"x":2.6,"y":0.26},{"k":"R","i":4,"x":2.7,"y":0.2},{"k":"R","i":4,"x":2.8,"y":0.12},{"k":"R","i":4,"x":2.9,"y":0.05},{"k":"R","i":4,"x":3,"y":0},
{"k":"R","i":5,"x":1,"y":1},{"k":"R","i":5,"x":1.05,"y":0.95},{"k":"R","i":5,"x":1.1,"y":0.88},{"k":"R","i":5,"x":1.2,"y":0.8},{"k":"R","i":5,"x":1.3,"y":0.75},{"k":"R","i":5,"x":1.4,"y":0.72},{"k":"R","i":5,"x":1.5,"y":0.69},{"k":"R","i":5,"x":1.6,"y":0.65},{"k":"R","i":5,"x":1.7,"y":0.61},{"k":"R","i":5,"x":1.8,"y":0.55},{"k":"R","i":5,"x":1.9,"y":0.48},{"k":"R","i":5,"x":2,"y":0.43},{"k":"R","i":5,"x":2.1,"y":0.4},{"k":"R","i":5,"x":2.2,"y":0.38},{"k":"R","i":5,"x":2.3,"y":0.35},{"k":"R","i":5,"x":2.4,"y":0.3},{"k":"R","i":5,"x":2.5,"y":0.24},{"k":"R","i":5,"x":2.6,"y":0.18},{"k":"R","i":5,"x":2.7,"y":0.13},{"k":"R","i":5,"x":2.8,"y":0.07},{"k":"R","i":5,"x":2.9,"y":0.03},{"k":"R","i":5,"x":3,"y":0},
{"k":"R","i":6,"x":1,"y":1},{"k":"R","i":6,"x":1.05,"y":0.99},{"k":"R","i":6,"x":1.1,"y":0.96},{"k":"R","i":6,"x":1.2,"y":0.91},{"k":"R","i":6,"x":1.3,"y":0.86},{"k":"R","i":6,"x":1.4,"y":0.8},{"k":"R","i":6,"x":1.5,"y":0.72},{"k":"R","i":6,"x":1.6,"y":0.66},{"k":"R","i":6,"x":1.7,"y":0.62},{"k":"R","i":6,"x":1.8,"y":0.59},{"k":"R","i":6,"x":1.9,"y":0.56},{"k":"R","i":6,"x":2,"y":0.53},{"k":"R","i":6,"x":2.1,"y":0.49},{"k":"R","i":6,"x":2.2,"y":0.45},{"k":"R","i":6,"x":2.3,"y":0.41},{"k":"R","i":6,"x":2.4,"y":0.37},{"k":"R","i":6,"x":2.5,"y":0.33},{"k":"R","i":6,"x":2.6,"y":0.28},{"k":"R","i":6,"x":2.7,"y":0.22},{"k":"R","i":6,"x":2.8,"y":0.14},{"k":"R","i":6,"x":2.9,"y":0.06},{"k":"R","i":6,"x":3,"y":0},
{"k":"R","i":7,"x":1,"y":1},{"k":"R","i":7,"x":1.05,"y":0.97},{"k":"R","i":7,"x":1.1,"y":0.92},{"k":"R","i":7,"x":1.2,"y":0.84},{"k":"R","i":7,"x":1.3,"y":0.78},{"k":"R","i":7,"x":1.4,"y":0.74},{"k":"R","i":7,"x":1.5,"y":0.67},{"k":"R","i":7,"x":1.6,"y":0.61},{"k":"R","i":7,"x":1.7,"y":0.57},{"k":"R","i":7,"x":1.8,"y":0.54},{"k":"R","i":7,"x":1.9,"y":0.5},{"k":"R","i":7,"x":2,"y":0.45},{"k":"R","i":7,"x":2.1,"y":0.4},{"k":"R","i":7,"x":2.2,"y":0.35},{"k":"R","i":7,"x":2.3,"y":0.31},{"k":"R","i":7,"x":2.4,"y":0.27},{"k":"R","i":7,"x":2.5,"y":0.23},{"k":"R","i":7,"x":2.6,"y":0.19},{"k":"R","i":7,"x":2.7,"y":0.12},{"k":"R","i":7,"x":2.8,"y":0.06},{"k":"R","i":7,"x":2.9,"y":0.02},{"k":"R","i":7,"x":3,"y":0},
{"k":"R","i":8,"x":1,"y":1},{"k":"R","i":8,"x":1.05,"y":0.94},{"k":"R","i":8,"x":1.1,"y":0.89},{"k":"R","i":8,"x":1.2,"y":0.81},{"k":"R","i":8,"x":1.3,"y":0.77},{"k":"R","i":8,"x":1.4,"y":0.71},{"k":"R","i":8,"x":1.5,"y":0.64},{"k":"R","i":8,"x":1.6,"y":0.59},{"k":"R","i":8,"x":1.7,"y":0.55},{"k":"R","i":8,"x":1.8,"y":0.51},{"k":"R","i":8,"x":1.9,"y":0.46},{"k":"R","i":8,"x":2,"y":0.42},{"k":"R","i":8,"x":2.1,"y":0.38},{"k":"R","i":8,"x":2.2,"y":0.34},{"k":"R","i":8,"x":2.3,"y":0.3},{"k":"R","i":8,"x":2.4,"y":0.26},{"k":"R","i":8,"x":2.5,"y":0.21},{"k":"R","i":8,"x":2.6,"y":0.14},{"k":"R","i":8,"x":2.7,"y":0.09},{"k":"R","i":8,"x":2.8,"y":0.04},{"k":"R","i":8,"x":2.9,"y":0.01},{"k":"R","i":8,"x":3,"y":0},
{"k":"R","i":9,"x":1,"y":1},{"k":"R","i":9,"x":1.05,"y":0.98},{"k":"R","i":9,"x":1.1,"y":0.94},{"k":"R","i":9,"x":1.2,"y":0.87},{"k":"R","i":9,"x":1.3,"y":0.84},{"k":"R","i":9,"x":1.4,"y":0.81},{"k":"R","i":9,"x":1.5,"y":0.77},{"k":"R","i":9,"x":1.6,"y":0.7},{"k":"R","i":9,"x":1.7,"y":0.62},{"k":"R","i":9,"x":1.8,"y":0.57},{"k":"R","i":9,"x":1.9,"y":0.51},{"k":"R","i":9,"x":2,"y":0.47},{"k":"R","i":9,"x":2.1,"y":0.42},{"k":"R","i":9,"x":2.2,"y":0.38},{"k":"R","i":9,"x":2.3,"y":0.33},{"k":"R","i":9,"x":2.4,"y":0.28},{"k":"R","i":9,"x":2.5,"y":0.22},{"k":"R","i":9,"x":2.6,"y":0.16},{"k":"R","i":9,"x":2.7,"y":0.1},{"k":"R","i":9,"x":2.8,"y":0.05},{"k":"R","i":9,"x":2.9,"y":0.02},{"k":"R","i":9,"x":3,"y":0},
{"k":"R","i":10,"x":1,"y":1},{"k":"R","i":10,"x":1.05,"y":0.96},{"k":"R","i":10,"x":1.1,"y":0.91},{"k":"R","i":10,"x":1.2,"y":0.83},{"k":"R","i":10,"x":1.3,"y":0.74},{"k":"R","i":10,"x":1.4,"y":0.67},{"k":"R","i":10,"x":1.5,"y":0.6},{"k":"R","i":10,"x":1.6,"y":0.56},{"k":"R","i":10,"x":1.7,"y":0.53},{"k":"R","i":10,"x":1.8,"y":0.49},{"k":"R","i":10,"x":1.9,"y":0.45},{"k":"R","i":10,"x":2,"y":0.4},{"k":"R","i":10,"x":2.1,"y":0.37},{"k":"R","i":10,"x":2.2,"y":0.33},{"k":"R","i":10,"x":2.3,"y":0.28},{"k":"R","i":10,"x":2.4,"y":0.24},{"k":"R","i":10,"x":2.5,"y":0.19},{"k":"R","i":10,"x":2.6,"y":0.15},{"k":"R","i":10,"x":2.7,"y":0.11},{"k":"R","i":10,"x":2.8,"y":0.06},{"k":"R","i":10,"x":2.9,"y":0.02},{"k":"R","i":10,"x":3,"y":0},
{"k":"R","i":11,"x":1,"y":1},{"k":"R","i":11,"x":1.05,"y":0.97},{"k":"R","i":11,"x":1.1,"y":0.94},{"k":"R","i":11,"x":1.2,"y":0.89},{"k":"R","i":11,"x":1.3,"y":0.85},{"k":"R","i":11,"x":1.4,"y":0.83},{"k":"R","i":11,"x":1.5,"y":0.79},{"k":"R","i":11,"x":1.6,"y":0.72},{"k":"R","i":11,"x":1.7,"y":0.66},{"k":"R","i":11,"x":1.8,"y":0.6},{"k":"R","i":11,"x":1.9,"y":0.56},{"k":"R","i":11,"x":2,"y":0.51},{"k":"R","i":11,"x":2.1,"y":0.47},{"k":"R","i":11,"x":2.2,"y":0.43},{"k":"R","i":11,"x":2.3,"y":0.38},{"k":"R","i":11,"x":2.4,"y":0.33},{"k":"R","i":11,"x":2.5,"y":0.29},{"k":"R","i":11,"x":2.6,"y":0.25},{"k":"R","i":11,"x":2.7,"y":0.2},{"k":"R","i":11,"x":2.8,"y":0.12},{"k":"R","i":11,"x":2.9,"y":0.05},{"k":"R","i":11,"x":3,"y":0},
{"k":"R","i":12,"x":1,"y":1},{"k":"R","i":12,"x":1.05,"y":0.95},{"k":"R","i":12,"x":1.1,"y":0.87},{"k":"R","i":12,"x":1.2,"y":0.79},{"k":"R","i":12,"x":1.3,"y":0.72},{"k":"R","i":12,"x":1.4,"y":0.66},{"k":"R","i":12,"x":1.5,"y":0.58},{"k":"R","i":12,"x":1.6,"y":0.54},{"k":"R","i":12,"x":1.7,"y":0.5},{"k":"R","i":12,"x":1.8,"y":0.47},{"k":"R","i":12,"x":1.9,"y":0.44},{"k":"R","i":12,"x":2,"y":0.41},{"k":"R","i":12,"x":2.1,"y":0.39},{"k":"R","i":12,"x":2.2,"y":0.36},{"k":"R","i":12,"x":2.3,"y":0.32},{"k":"R","i":12,"x":2.4,"y":0.27},{"k":"R","i":12,"x":2.5,"y":0.2},{"k":"R","i":12,"x":2.6,"y":0.12},{"k":"R","i":12,"x":2.7,"y":0.07},{"k":"R","i":12,"x":2.8,"y":0.03},{"k":"R","i":12,"x":2.9,"y":0.01},{"k":"R","i":12,"x":3,"y":0}
]
},
"concat": [
{
  "width": 240, "height": 240,
  "data": {"name": "a"},
  "resolve": {"axis": {"x": "independent", "y": "independent"}},
  "encoding": {
    "x": {"field": "x", "type": "quantitative", "scale": {"domain": [0.9, 3.1], "nice": false, "zero": false}, "axis": null},
    "y": {"field": "y", "type": "quantitative", "scale": {"domain": [-0.1, 1.1], "nice": false, "zero": false}, "axis": null}
  },
  "layer": [
    {"transform": [{"filter": "datum.k === 'B'"}], "mark": {"type": "line", "stroke": "#0000ff", "strokeWidth": 1, "strokeDash": [6, 5]},
     "encoding": {
       "x": {"field": "x", "type": "quantitative", "scale": {"domain": [0.9, 3.1], "nice": false, "zero": false}, "axis": {"orient": "bottom", "values": [1, 1.5, 2, 2.5, 3], "format": ".1f", "title": ["Normalized Circuit Area", "(a) Color Invert Filter"], "labelPadding": 10, "titlePadding": 2}},
       "y": {"field": "y", "type": "quantitative", "scale": {"domain": [-0.1, 1.1], "nice": false, "zero": false}, "axis": {"orient": "left", "values": [0, 0.2, 0.4, 0.6, 0.8, 1], "format": ".1f", "title": "Normalized Mean Absolute Error", "labelPadding": 8, "titlePadding": 4}}
     }},
    {"transform": [{"filter": "datum.k === 'B'"}], "mark": {"type": "point", "shape": "triangle-up", "filled": true, "fill": "#0000ff", "stroke": "#1a1a1a", "strokeWidth": 0.7, "size": 60, "opacity": 1}},
    {"transform": [{"filter": "datum.k === 'W'"}], "mark": {"type": "line", "stroke": "#008000", "strokeWidth": 1, "strokeDash": [6, 5]}},
    {"transform": [{"filter": "datum.k === 'W'"}], "mark": {"type": "point", "shape": "triangle-down", "filled": true, "fill": "#008000", "stroke": "#1a1a1a", "strokeWidth": 0.7, "size": 60, "opacity": 1}},
    {"transform": [{"filter": "datum.k === 'E'"}], "mark": {"type": "line", "stroke": "#ff0000", "strokeWidth": 1}},
    {"transform": [{"filter": "datum.k === 'E'"}], "mark": {"type": "point", "shape": "circle", "filled": true, "fill": "#ff0000", "stroke": "#1a1a1a", "strokeWidth": 0.7, "size": 56, "opacity": 1}},
    {"transform": [{"filter": "datum.k === 'R'"}], "mark": {"type": "line", "stroke": "black", "strokeWidth": 1.1},
     "encoding": {
       "detail": {"field": "i", "type": "nominal"},
       "x": {"field": "x", "type": "quantitative", "scale": {"domain": [0.9, 3.1], "nice": false, "zero": false}, "axis": {"orient": "top", "values": [1, 1.5, 2, 2.5, 3], "labels": false, "title": null}},
       "y": {"field": "y", "type": "quantitative", "scale": {"domain": [-0.1, 1.1], "nice": false, "zero": false}, "axis": {"orient": "right", "values": [0, 0.2, 0.4, 0.6, 0.8, 1], "labels": false, "title": null}}
     }},
    {"data": {"values": [{"lg": "Best Order"}, {"lg": "Worst Order"}, {"lg": "Estimated Order"}, {"lg": "Random Order"}]},
     "mark": {"type": "point", "filled": true, "opacity": 0},
     "encoding": {
       "x": null, "y": null,
       "shape": {"field": "lg", "type": "nominal",
         "scale": {"domain": ["Best Order", "Worst Order", "Estimated Order", "Random Order"],
                   "range": ["M-0.744,-0.197L-0.97,0.197L-0.518,0.197Z M0.744,-0.197L0.518,0.197L0.97,0.197Z M-0.63,-0.03L-0.2,-0.03L-0.2,0.03L-0.63,0.03Z M0.154,-0.03L0.63,-0.03L0.63,0.03L0.154,0.03Z",
                             "M-0.744,0.197L-0.97,-0.197L-0.518,-0.197Z M0.744,0.197L0.518,-0.197L0.97,-0.197Z M-0.63,-0.03L-0.2,-0.03L-0.2,0.03L-0.63,0.03Z M0.154,-0.03L0.63,-0.03L0.63,0.03L0.154,0.03Z",
                             "M-0.964,0A0.22,0.22 0 1,0 -0.524,0A0.22,0.22 0 1,0 -0.964,0Z M0.524,0A0.22,0.22 0 1,0 0.964,0A0.22,0.22 0 1,0 0.524,0Z M-0.524,-0.03L0.524,-0.03L0.524,0.03L-0.524,0.03Z",
                             "M-0.75,-0.03L0.75,-0.03L0.75,0.03L-0.75,0.03Z"]},
         "legend": {"title": null, "orient": "none", "legendX": 135, "legendY": -16, "direction": "vertical", "padding": 3, "symbolOffset": 3.7, "labelOffset": 14.6, "clipHeight": 23, "rowPadding": 0, "symbolSize": 1156, "symbolStrokeWidth": 0, "symbolOpacity": 1, "strokeColor": "black", "fillColor": "white", "cornerRadius": 0, "labelFontSize": 13, "labelFont": "DejaVu Sans", "labelColor": "black", "labelLimit": 0}},
       "fill": {"field": "lg", "type": "nominal",
         "scale": {"domain": ["Best Order", "Worst Order", "Estimated Order", "Random Order"], "range": ["#0000ff", "#008000", "#ff0000", "#000000"]},
         "legend": {"title": null, "orient": "none", "legendX": 135, "legendY": -16, "direction": "vertical", "padding": 3, "symbolOffset": 3.7, "labelOffset": 14.6, "clipHeight": 23, "rowPadding": 0, "symbolSize": 1156, "symbolStrokeWidth": 0, "symbolOpacity": 1, "strokeColor": "black", "fillColor": "white", "cornerRadius": 0, "labelFontSize": 13, "labelFont": "DejaVu Sans", "labelColor": "black", "labelLimit": 0}}
     }}
  ]
},
{
  "width": 240, "height": 240,
  "data": {"name": "b"},
  "resolve": {"axis": {"x": "independent", "y": "independent"}},
  "encoding": {
    "x": {"field": "x", "type": "quantitative", "scale": {"domain": [0.9, 3.1], "nice": false, "zero": false}, "axis": null},
    "y": {"field": "y", "type": "quantitative", "scale": {"domain": [-0.1, 1.1], "nice": false, "zero": false}, "axis": null}
  },
  "layer": [
    {"transform": [{"filter": "datum.k === 'B'"}], "mark": {"type": "line", "stroke": "#0000ff", "strokeWidth": 1, "strokeDash": [6, 5]},
     "encoding": {
       "x": {"field": "x", "type": "quantitative", "scale": {"domain": [0.9, 3.1], "nice": false, "zero": false}, "axis": {"orient": "bottom", "values": [1, 1.5, 2, 2.5, 3], "format": ".1f", "title": ["Normalized Circuit Area", "(b) Horizontal-Differential Filter"], "labelPadding": 10, "titlePadding": 2}},
       "y": {"field": "y", "type": "quantitative", "scale": {"domain": [-0.1, 1.1], "nice": false, "zero": false}, "axis": {"orient": "left", "values": [0, 0.2, 0.4, 0.6, 0.8, 1], "format": ".1f", "title": "Normalized Mean Absolute Error", "labelPadding": 8, "titlePadding": 4}}
     }},
    {"transform": [{"filter": "datum.k === 'B'"}], "mark": {"type": "point", "shape": "triangle-up", "filled": true, "fill": "#0000ff", "stroke": "#1a1a1a", "strokeWidth": 0.7, "size": 60, "opacity": 1}},
    {"transform": [{"filter": "datum.k === 'W'"}], "mark": {"type": "line", "stroke": "#008000", "strokeWidth": 1, "strokeDash": [6, 5]}},
    {"transform": [{"filter": "datum.k === 'W'"}], "mark": {"type": "point", "shape": "triangle-down", "filled": true, "fill": "#008000", "stroke": "#1a1a1a", "strokeWidth": 0.7, "size": 60, "opacity": 1}},
    {"transform": [{"filter": "datum.k === 'E'"}], "mark": {"type": "line", "stroke": "#ff0000", "strokeWidth": 1}},
    {"transform": [{"filter": "datum.k === 'E'"}], "mark": {"type": "point", "shape": "circle", "filled": true, "fill": "#ff0000", "stroke": "#1a1a1a", "strokeWidth": 0.7, "size": 56, "opacity": 1}},
    {"transform": [{"filter": "datum.k === 'R'"}], "mark": {"type": "line", "stroke": "black", "strokeWidth": 1.1},
     "encoding": {
       "detail": {"field": "i", "type": "nominal"},
       "x": {"field": "x", "type": "quantitative", "scale": {"domain": [0.9, 3.1], "nice": false, "zero": false}, "axis": {"orient": "top", "values": [1, 1.5, 2, 2.5, 3], "labels": false, "title": null}},
       "y": {"field": "y", "type": "quantitative", "scale": {"domain": [-0.1, 1.1], "nice": false, "zero": false}, "axis": {"orient": "right", "values": [0, 0.2, 0.4, 0.6, 0.8, 1], "labels": false, "title": null}}
     }}
  ]
},
{
  "width": 240, "height": 240,
  "data": {"name": "c"},
  "resolve": {"axis": {"x": "independent", "y": "independent"}},
  "encoding": {
    "x": {"field": "x", "type": "quantitative", "scale": {"domain": [0.9, 3.1], "nice": false, "zero": false}, "axis": null},
    "y": {"field": "y", "type": "quantitative", "scale": {"domain": [-0.1, 1.1], "nice": false, "zero": false}, "axis": null}
  },
  "layer": [
    {"transform": [{"filter": "datum.k === 'B'"}], "mark": {"type": "line", "stroke": "#0000ff", "strokeWidth": 1, "strokeDash": [6, 5]},
     "encoding": {
       "x": {"field": "x", "type": "quantitative", "scale": {"domain": [0.9, 3.1], "nice": false, "zero": false}, "axis": {"orient": "bottom", "values": [1, 1.5, 2, 2.5, 3], "format": ".1f", "title": ["Normalized Circuit Area", "(c) Edge Detection Filter"], "labelPadding": 10, "titlePadding": 2}},
       "y": {"field": "y", "type": "quantitative", "scale": {"domain": [-0.1, 1.1], "nice": false, "zero": false}, "axis": {"orient": "left", "values": [0, 0.2, 0.4, 0.6, 0.8, 1], "format": ".1f", "title": "Normalized Mean Absolute Error", "labelPadding": 8, "titlePadding": 4}}
     }},
    {"transform": [{"filter": "datum.k === 'B'"}], "mark": {"type": "point", "shape": "triangle-up", "filled": true, "fill": "#0000ff", "stroke": "#1a1a1a", "strokeWidth": 0.7, "size": 60, "opacity": 1}},
    {"transform": [{"filter": "datum.k === 'W'"}], "mark": {"type": "line", "stroke": "#008000", "strokeWidth": 1, "strokeDash": [6, 5]}},
    {"transform": [{"filter": "datum.k === 'W'"}], "mark": {"type": "point", "shape": "triangle-down", "filled": true, "fill": "#008000", "stroke": "#1a1a1a", "strokeWidth": 0.7, "size": 60, "opacity": 1}},
    {"transform": [{"filter": "datum.k === 'E'"}], "mark": {"type": "line", "stroke": "#ff0000", "strokeWidth": 1}},
    {"transform": [{"filter": "datum.k === 'E'"}], "mark": {"type": "point", "shape": "circle", "filled": true, "fill": "#ff0000", "stroke": "#1a1a1a", "strokeWidth": 0.7, "size": 56, "opacity": 1}},
    {"transform": [{"filter": "datum.k === 'R'"}], "mark": {"type": "line", "stroke": "black", "strokeWidth": 1.1},
     "encoding": {
       "detail": {"field": "i", "type": "nominal"},
       "x": {"field": "x", "type": "quantitative", "scale": {"domain": [0.9, 3.1], "nice": false, "zero": false}, "axis": {"orient": "top", "values": [1, 1.5, 2, 2.5, 3], "labels": false, "title": null}},
       "y": {"field": "y", "type": "quantitative", "scale": {"domain": [-0.1, 1.1], "nice": false, "zero": false}, "axis": {"orient": "right", "values": [0, 0.2, 0.4, 0.6, 0.8, 1], "labels": false, "title": null}}
     }}
  ]
},
{
  "width": 240, "height": 240,
  "data": {"name": "d"},
  "resolve": {"axis": {"x": "independent", "y": "independent"}},
  "encoding": {
    "x": {"field": "x", "type": "quantitative", "scale": {"domain": [0.9, 3.1], "nice": false, "zero": false}, "axis": null},
    "y": {"field": "y", "type": "quantitative", "scale": {"domain": [-0.1, 1.1], "nice": false, "zero": false}, "axis": null}
  },
  "layer": [
    {"transform": [{"filter": "datum.k === 'B'"}], "mark": {"type": "line", "stroke": "#0000ff", "strokeWidth": 1, "strokeDash": [6, 5]},
     "encoding": {
       "x": {"field": "x", "type": "quantitative", "scale": {"domain": [0.9, 3.1], "nice": false, "zero": false}, "axis": {"orient": "bottom", "values": [1, 1.5, 2, 2.5, 3], "format": ".1f", "title": ["Normalized Circuit Area", "(d) FFT"], "labelPadding": 10, "titlePadding": 2}},
       "y": {"field": "y", "type": "quantitative", "scale": {"domain": [-0.1, 1.1], "nice": false, "zero": false}, "axis": {"orient": "left", "values": [0, 0.2, 0.4, 0.6, 0.8, 1], "format": ".1f", "title": "Normalized Mean Absolute Error", "labelPadding": 8, "titlePadding": 4}}
     }},
    {"transform": [{"filter": "datum.k === 'B'"}], "mark": {"type": "point", "shape": "triangle-up", "filled": true, "fill": "#0000ff", "stroke": "#1a1a1a", "strokeWidth": 0.7, "size": 60, "opacity": 1}},
    {"transform": [{"filter": "datum.k === 'W'"}], "mark": {"type": "line", "stroke": "#008000", "strokeWidth": 1, "strokeDash": [6, 5]}},
    {"transform": [{"filter": "datum.k === 'W'"}], "mark": {"type": "point", "shape": "triangle-down", "filled": true, "fill": "#008000", "stroke": "#1a1a1a", "strokeWidth": 0.7, "size": 60, "opacity": 1}},
    {"transform": [{"filter": "datum.k === 'E'"}], "mark": {"type": "line", "stroke": "#ff0000", "strokeWidth": 1}},
    {"transform": [{"filter": "datum.k === 'E'"}], "mark": {"type": "point", "shape": "circle", "filled": true, "fill": "#ff0000", "stroke": "#1a1a1a", "strokeWidth": 0.7, "size": 56, "opacity": 1}},
    {"transform": [{"filter": "datum.k === 'R'"}], "mark": {"type": "line", "stroke": "black", "strokeWidth": 1.1},
     "encoding": {
       "detail": {"field": "i", "type": "nominal"},
       "x": {"field": "x", "type": "quantitative", "scale": {"domain": [0.9, 3.1], "nice": false, "zero": false}, "axis": {"orient": "top", "values": [1, 1.5, 2, 2.5, 3], "labels": false, "title": null}},
       "y": {"field": "y", "type": "quantitative", "scale": {"domain": [-0.1, 1.1], "nice": false, "zero": false}, "axis": {"orient": "right", "values": [0, 0.2, 0.4, 0.6, 0.8, 1], "labels": false, "title": null}}
     }}
  ]
}
],
"columns": 2,
"spacing": {"row": 72, "column": 121},
"bounds": "flush"
}
